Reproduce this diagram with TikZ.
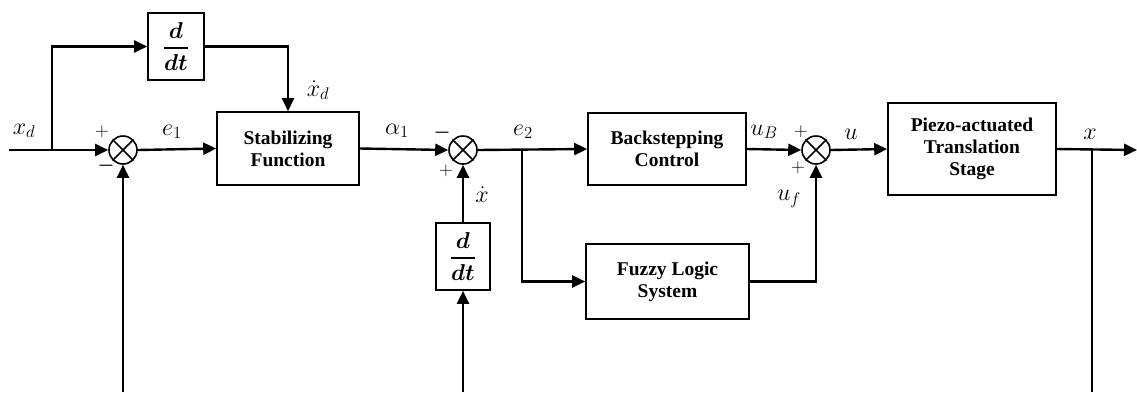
\RequirePackage{fix-cm}
\documentclass[tikz,border=0pt]{standalone}
\usepackage{amsmath}
\usepackage{bm}
\usepackage{fontspec}
\setmainfont{Liberation Serif}
\usetikzlibrary{arrows.meta}
\tikzset{
  blk/.style={draw, line width=1.6pt, align=center, inner sep=0pt,
    font=\fontsize{19.5}{22}\selectfont\bfseries},
  sumnode/.style={draw, circle, line width=1.6pt, minimum size=28pt, inner sep=0pt},
  con/.style={line width=2.4pt, -{Triangle[length=13pt,width=12pt]}},
  wire/.style={line width=2.4pt},
  lbl/.style={inner sep=0pt, font=\fontsize{24}{26}\selectfont},
  sgn/.style={inner sep=0pt, font=\fontsize{19}{22}\selectfont},
}
\newcommand{\ddt}{\fontsize{23}{26}\selectfont$\genfrac{}{}{1.8pt}{0}{\bm{d}}{\bm{dt}}$}
\begin{document}
\begin{tikzpicture}[x=1pt,y=-1pt]
\useasboundingbox (0,0) rectangle (1137,392);
% blocks
\node[blk, minimum width=56pt, minimum height=67pt] (dd1) at (176,46.5) {\ddt};
\node[blk, minimum width=142pt, minimum height=73pt] (stab) at (288,148.5) {Stabilizing\\Function};
\node[blk, minimum width=158pt, minimum height=72pt] (back) at (667,149) {Backstepping\\Control};
\node[blk, minimum width=168pt, minimum height=92pt] (piezo) at (972,149) {Piezo-actuated\\Translation\\Stage};
\node[blk, minimum width=163pt, minimum height=75pt] (fuzzy) at (667.5,281.5) {Fuzzy Logic\\System};
\node[blk, minimum width=54pt, minimum height=67pt] (dd2) at (463,256.5) {\ddt};
% summing junctions
\node[sumnode] (s1) at (123,150) {};
\node[sumnode] (s2) at (463,150) {};
\node[sumnode] (s3) at (816,150) {};
\foreach \s in {s1,s2,s3}{
  \draw[line width=1.6pt] (\s.45) -- (\s.225) (\s.135) -- (\s.315);
}
% coordinates
\coordinate (in) at (9,150);
\coordinate (b1) at (52,150);
\coordinate (b2) at (522,150);
\coordinate (b3) at (1092,150);
\coordinate (out) at (1137,150);
\coordinate (f1) at (123,392);
\coordinate (f2) at (463,392);
\coordinate (f3) at (1092,392);
% connectors
\draw[con] (in) -- (s1.west);
\draw[con] (b1) |- (dd1.west);
\draw[con] (dd1.east) -| (stab.north);
\draw[con] (f1) -- (s1.south);
\draw[con] (s1.east) -- (stab.west);
\draw[con] (stab.east) -- (s2.west);
\draw[con] (s2.east) -- (back.west);
\draw[con] (b2) |- (fuzzy.west);
\draw[con] (f2) -- (dd2.south);
\draw[con] (dd2.north) -- (s2.south);
\draw[con] (back.east) -- (s3.west);
\draw[con] (fuzzy.east) -| (s3.south);
\draw[con] (s3.east) -- (piezo.west);
\draw[con] (piezo.east) -- (out);
\draw[wire] (b3) -- (f3);
% labels
\node[lbl] (lxd) at (24,131) {$x_d$};
\node[lbl] (le1) at (172,132) {$e_1$};
\node[lbl] (lxdd) at (318,90) {$\dot{x}_d$};
\node[lbl] (la1) at (397,131) {$\alpha_1$};
\node[lbl] (le2) at (523,132) {$e_2$};
\node[lbl] (lxdot) at (482,195) {$\dot{x}$};
\node[lbl] (luB) at (764,132) {$u_B$};
\node[lbl] (lu) at (851,134) {$u$};
\node[lbl] (luf) at (789,199) {$u_f$};
\node[lbl] (lx) at (1090,134) {$x$};
% signs
\node[sgn] (p1) at (102,132) {$+$};
\node[sgn] (m1) at (106,166) {$\bm{-}$};
\node[sgn] (m2) at (442,133) {$\bm{-}$};
\node[sgn] (p2) at (446,171) {$+$};
\node[sgn] (p3) at (801,132) {$+$};
\node[sgn] (p4) at (798,168) {$+$};
\end{tikzpicture}
\end{document}
